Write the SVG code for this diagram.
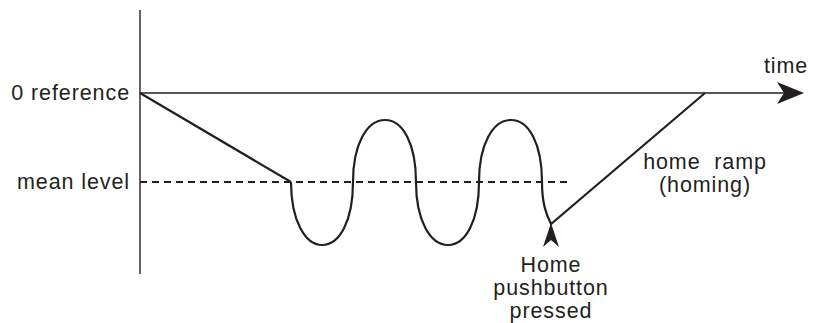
<svg xmlns="http://www.w3.org/2000/svg" width="814" height="323" viewBox="0 0 814 323">
<style>
text{font-family:"Liberation Sans",Arial,sans-serif;font-size:21.5px;fill:#231f20;letter-spacing:0.9px}
.ax{stroke:#231f20;stroke-width:1.4;fill:none}
.cv{stroke:#231f20;stroke-width:2.2;fill:none}
.dash{stroke:#231f20;stroke-width:2;stroke-dasharray:7,5;fill:none}
</style>
<rect width="814" height="323" fill="#fff"/>
<g id="connectors">
<line class="ax" x1="140" y1="10" x2="140" y2="274"/>
<line class="ax" x1="140" y1="93" x2="790" y2="93"/>
<path d="M804,93 L777,82 L784,93 L777,104 Z" fill="#231f20"/>
<line class="dash" x1="140" y1="182" x2="570" y2="182"/>
<path class="cv" d="M140,93 L291,182"/>
<path class="cv" d="M291,182 C291,220 305,245 322,245 C340,245 353,220 353,182 C353,144 367,120 385,120 C403,120 416,144 416,182 C416,220 430,245 448,245 C466,245 479,220 479,182 C479,144 493,120 511,120 C529,120 542,144 542,182 C542,203 546,214 551,224 L705,93"/>
<path d="M551,223 L559,247 L551,240 L543,247 Z" fill="#231f20"/>
</g>
<g id="label-zero"><text x="130" y="100" text-anchor="end">0 reference</text></g>
<g id="label-mean"><text x="130" y="189" text-anchor="end">mean level</text></g>
<g id="label-time"><text x="786" y="73" text-anchor="middle">time</text></g>
<g id="label-ramp"><text x="705" y="169" text-anchor="middle">home&#160; ramp</text><text x="705" y="192" text-anchor="middle">(homing)</text></g>
<g id="label-home"><text x="551" y="272" text-anchor="middle">Home</text><text x="551" y="295" text-anchor="middle">pushbutton</text><text x="551" y="318" text-anchor="middle">pressed</text></g>
</svg>
